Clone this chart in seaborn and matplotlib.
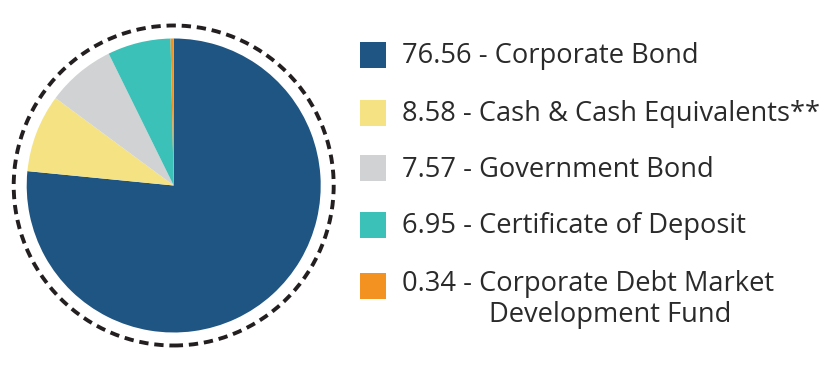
import matplotlib
matplotlib.use("Agg")
import matplotlib.pyplot as plt
import seaborn as sns
from matplotlib.patches import Circle, Rectangle

sns.set_theme(style="white")
plt.rcParams['font.family'] = ['Open Sans', 'DejaVu Sans']

categories = ["Corporate Bond", "Cash & Cash Equivalents**", "Government Bond",
              "Certificate of Deposit", "Corporate Debt Market\nDevelopment Fund"]
values = [76.56, 8.58, 7.57, 6.95, 0.34]
value_labels = ["76.56", "8.58", "7.57", "6.95", "0.34"]
colors = ["#1f5582", "#f5e383", "#d1d2d4", "#3cc1b9", "#f39221"]

W, H = 836, 376
fig = plt.figure(figsize=(W / 100, H / 100), dpi=100)
fig.patch.set_facecolor("white")

# Pie axes in pixel units
cx, cy = 173.7, 185.5
half = 172
ax = fig.add_axes([(cx - half) / W, (H - cy - half) / H, 2 * half / W, 2 * half / H])
ax.pie(values, colors=colors, startangle=90, counterclock=False, radius=147,
       wedgeprops=dict(linewidth=0), frame=False)
ax.set_xlim(-half, half)
ax.set_ylim(-half, half)
ax.set_aspect("equal")
ax.axis("off")
ring = Circle((0, 0), 160, fill=False, edgecolor="#231f20", linewidth=2.8,
              linestyle=(0, (2.4, 1.5)))
ax.add_patch(ring)

# Legend axes in pixel coordinates
lax = fig.add_axes([0, 0, 1, 1])
lax.set_xlim(0, W)
lax.set_ylim(H, 0)
lax.axis("off")
sq_tops = [42.3, 100, 155, 211.7, 272.7]
baselines = [63.5, 120.5, 176.7, 233.3, 290.7]
fs = 19.6
for i, (lab, v, c) in enumerate(zip(categories, value_labels, colors)):
    lax.add_patch(Rectangle((360, sq_tops[i]), 26, 26, facecolor=c, edgecolor="none"))
    lines = lab.split("\n")
    prefix = f"{v} - "
    lax.text(402, baselines[i], prefix + lines[0], fontsize=fs, color="#2a2a2a",
             va="baseline", ha="left")
    if len(lines) > 1:
        lax.text(489, baselines[i] + 31, lines[1], fontsize=fs, color="#2a2a2a",
                 va="baseline", ha="left")

fig.savefig("out.png", dpi=100, facecolor="white")
